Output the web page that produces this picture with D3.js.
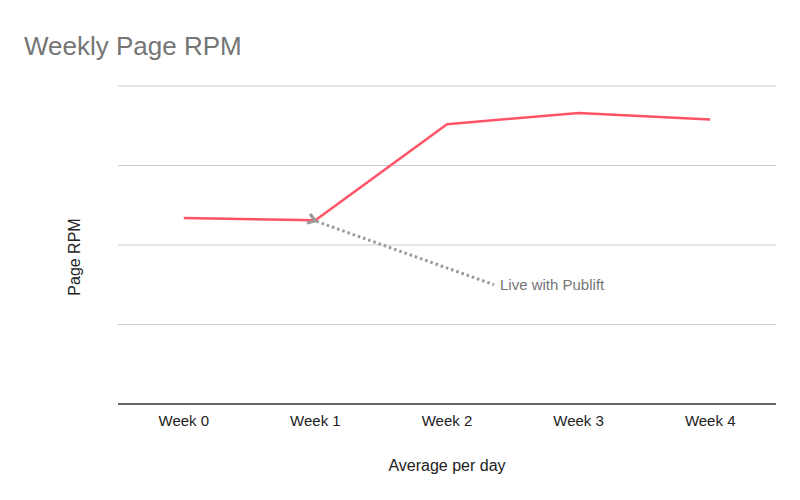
<!DOCTYPE html>
<html lang="en">
<head>
  <meta charset="UTF-8">
  <title>Weekly Page RPM</title>
  <script type="text/javascript" src="https://cdn.jsdelivr.net/npm/d3@7"></script>
  <style>
    body { margin: 0; background: #fff; }
    text { font-family: "Liberation Sans", Arial, sans-serif; }
  </style>
</head>
<body>
<div id="chart"></div>
<script type="text/javascript">
    // data
    let weeks = ["Week 0", "Week 1", "Week 2", "Week 3", "Week 4"];
    let rpm = [2.34, 2.31, 3.52, 3.66, 3.58];
    let yTicks = [0, 1, 2, 3, 4];
    let annotation = {week: "Week 1", text: "Live with Publift"};

    let width = 800, height = 500;
    let plotLeft = 118, plotRight = 776, plotTop = 86, plotBottom = 404;

    let svg = d3.select("#chart").append("svg")
        .attr("width", width).attr("height", height);

    let x = d3.scalePoint().domain(weeks).range([plotLeft, plotRight]).padding(0.5);
    let y = d3.scaleLinear().domain([0, 4]).range([plotBottom, plotTop]);

    svg.append("text").attr("x", 24).attr("y", 55)
        .attr("font-size", 26).attr("fill", "#757575")
        .text("Weekly Page RPM");

    // gridlines
    svg.append("g").selectAll("line").data(yTicks.filter(d => d > 0)).join("line")
        .attr("x1", plotLeft).attr("x2", plotRight)
        .attr("y1", d => y(d)).attr("y2", d => y(d))
        .attr("stroke", "#cccccc").attr("stroke-width", 1);

    // baseline
    svg.append("line").attr("x1", plotLeft).attr("x2", plotRight)
        .attr("y1", y(0)).attr("y2", y(0))
        .attr("stroke", "#333").attr("stroke-width", 1.3);

    // x tick labels
    svg.append("g").selectAll("text").data(weeks).join("text")
        .attr("x", d => x(d)).attr("y", y(0) + 22)
        .attr("text-anchor", "middle").attr("font-size", 15).attr("fill", "#222")
        .text(d => d);

    svg.append("text").attr("x", (plotLeft + plotRight) / 2).attr("y", 471)
        .attr("text-anchor", "middle").attr("font-size", 16).attr("fill", "#222")
        .text("Average per day");

    svg.append("text")
        .attr("transform", "translate(80,257) rotate(-90)")
        .attr("text-anchor", "middle").attr("font-size", 16).attr("fill", "#222")
        .text("Page RPM");

    // line
    let line = d3.line().x((d, i) => x(weeks[i])).y(d => y(d));
    svg.append("path").datum(rpm)
        .attr("d", line).attr("fill", "none")
        .attr("stroke", "#ff5468").attr("stroke-width", 2.5)
        .attr("stroke-linejoin", "round");

    // annotation arrow
    svg.append("defs").append("marker")
        .attr("id", "arrow").attr("viewBox", "0 0 10 10")
        .attr("refX", 1).attr("refY", 5)
        .attr("markerWidth", 4).attr("markerHeight", 4)
        .attr("orient", "auto-start-reverse")
        .append("path").attr("d", "M8,1 L2,5 L8,9")
        .attr("fill", "none").attr("stroke", "#999").attr("stroke-width", 2.5);

    let ai = weeks.indexOf(annotation.week);
    let tx = x("Week 2") + 47, ty = y(1.5);
    svg.append("line")
        .attr("x1", x(annotation.week) + 1).attr("y1", y(rpm[ai]) + 1)
        .attr("x2", tx).attr("y2", ty)
        .attr("stroke", "#999").attr("stroke-width", 3)
        .attr("stroke-dasharray", "2.5,3")
        .attr("marker-start", "url(#arrow)");

    svg.append("text").attr("x", tx + 6).attr("y", ty + 5)
        .attr("font-size", 15).attr("fill", "#757575")
        .text(annotation.text);
</script>
</body>
</html>
